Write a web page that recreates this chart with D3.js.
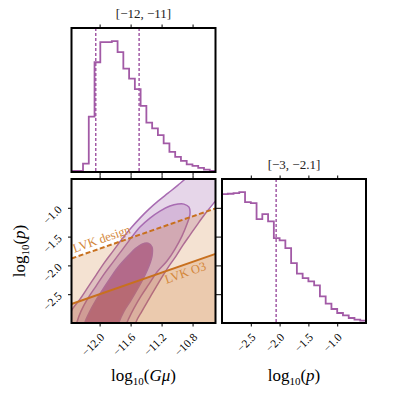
<!DOCTYPE html>
<html>
<head>
<meta charset="utf-8">
<script src="https://cdn.jsdelivr.net/npm/d3@7"></script>
<style>
  body { margin: 0; background: #fff; }
  svg { display: block; }
  text { font-family: "Liberation Serif", "DejaVu Serif", serif; fill: #000; }
</style>
</head>
<body>
<svg id="chart"></svg>
<script>
// ---- data ----
const gmuDomain = [-12.363, -10.504];
const pDomain = [-3, -0.5];
const gmuTicks = [-12.0, -11.6, -11.2, -10.8];
const pTicks = [-2.5, -2.0, -1.5, -1.0];

// 25-bin histograms (relative counts)
const gmuCounts = [3, 3, 25, 165, 327, 387, 387, 390, 357, 308, 278, 247, 197,
                   147, 130, 110, 85, 60, 45, 33, 23, 18, 12, 7, 3];
const pCounts = [387, 388, 390, 393, 363, 360, 312, 327, 305, 255, 248, 225, 180,
                 148, 135, 125, 113, 80, 58, 42, 30, 23, 15, 10, 7];

const gmuBounds = [-12.05, -11.49];
const pBounds = [-2.06];
const gmuTitle = "[\u221212, \u221211]";
const pTitle = "[\u22123, \u22122.1]";

// LVK sensitivity curves [log10 Gmu, log10 p]
const lvkDesign = [[-12.363, -1.88], [-10.504, -1.01]];
const lvkO3 = [[-12.363, -2.67], [-10.504, -1.80]];

// credible contours [log10 Gmu, log10 p]
const contourOuter = [[-10.705,-0.172],[-10.859,-0.450],[-10.988,-0.606],[-11.117,-0.745],[-11.246,-0.884],
  [-11.363,-1.023],[-11.479,-1.179],[-11.595,-1.352],[-11.711,-1.543],[-11.827,-1.752],[-11.943,-1.960],
  [-12.046,-2.168],[-12.150,-2.377],[-12.253,-2.585],[-12.343,-2.741],[-12.434,-2.950],[-12.511,-3.21],
  [-11.556,-3.21],[-11.530,-2.984],[-11.453,-2.793],[-11.363,-2.585],[-11.272,-2.377],[-11.195,-2.203],
  [-11.105,-2.012],[-11.014,-1.839],[-10.924,-1.648],[-10.834,-1.474],[-10.743,-1.300],[-10.640,-1.109],
  [-10.537,-0.936],[-10.421,-0.762],[-10.292,-0.519],[-10.382,-0.172]];
const contourMiddle = [[-10.911,-0.936],[-10.846,-0.988],[-10.834,-1.109],[-10.872,-1.283],[-10.937,-1.491],
  [-11.027,-1.717],[-11.130,-1.925],[-11.259,-2.116],[-11.363,-2.325],[-11.466,-2.533],[-11.556,-2.741],
  [-11.621,-2.915],[-11.659,-3.036],[-11.685,-3.21],[-12.330,-3.21],[-12.292,-2.984],[-12.240,-2.793],
  [-12.150,-2.568],[-12.046,-2.359],[-11.943,-2.151],[-11.827,-1.943],[-11.711,-1.734],[-11.595,-1.526],
  [-11.479,-1.335],[-11.350,-1.179],[-11.221,-1.057],[-11.092,-0.970],[-10.988,-0.936]];
const contourInner = [[-11.375,-1.613],[-11.324,-1.682],[-11.324,-1.839],[-11.363,-2.012],[-11.427,-2.203],
  [-11.505,-2.394],[-11.595,-2.602],[-11.685,-2.793],[-11.750,-2.984],[-11.801,-3.21],[-12.227,-3.21],
  [-12.188,-2.984],[-12.124,-2.793],[-12.046,-2.602],[-11.956,-2.411],[-11.853,-2.203],[-11.750,-2.012],
  [-11.634,-1.839],[-11.530,-1.700],[-11.453,-1.630]];

// ---- layout ----
const width = 395, height = 395;
const colL = [71.5, 215.5], colR = [222, 366];
const rowT = [28, 172], rowB = [179, 323];
const tick = 3.5;
const purple = "#a25aa6";
const orange = "#c8701e";
const serif = "Liberation Serif, DejaVu Serif, serif";

const svg = d3.select("#chart").attr("width", width).attr("height", height);

const xG = d3.scaleLinear().domain(gmuDomain).range(colL);
const yP = d3.scaleLinear().domain(pDomain).range([rowB[1], rowB[0]]);
const xP = d3.scaleLinear().domain(pDomain).range(colR);
const yTop = d3.scaleLinear().domain([0, 1.1 * d3.max(gmuCounts)]).range([rowT[1], rowT[0]]);
const yRight = d3.scaleLinear().domain([0, 1.1 * d3.max(pCounts)]).range([rowB[1], rowB[0]]);

const defs = svg.append("defs");
function clip(id, xr, yr) {
  defs.append("clipPath").attr("id", id).append("rect")
    .attr("x", xr[0]).attr("y", yr[0]).attr("width", xr[1] - xr[0]).attr("height", yr[1] - yr[0]);
  return `url(#${id})`;
}

function stepPoints(counts, dom) {
  const n = counts.length, w = (dom[1] - dom[0]) / n;
  const pts = [[dom[0], 0]];
  counts.forEach((c, i) => { pts.push([dom[0] + i * w, c]); pts.push([dom[0] + (i + 1) * w, c]); });
  pts.push([dom[1], 0]);
  return pts;
}

// ---- top histogram: log10(Gmu) ----
const gTop = svg.append("g").attr("clip-path", clip("cTop", colL, rowT));
gTop.append("path")
  .attr("d", d3.line().x(d => xG(d[0])).y(d => yTop(d[1]))(stepPoints(gmuCounts, gmuDomain)))
  .attr("fill", "none").attr("stroke", purple).attr("stroke-width", 1.8);
gTop.selectAll("line.q").data(gmuBounds).join("line")
  .attr("x1", d => xG(d)).attr("x2", d => xG(d)).attr("y1", rowT[0]).attr("y2", rowT[1])
  .attr("stroke", purple).attr("stroke-width", 1.5).attr("stroke-dasharray", "3,2");

// ---- right histogram: log10(p) ----
const gRight = svg.append("g").attr("clip-path", clip("cRight", colR, rowB));
gRight.append("path")
  .attr("d", d3.line().x(d => xP(d[0])).y(d => yRight(d[1]))(stepPoints(pCounts, pDomain)))
  .attr("fill", "none").attr("stroke", purple).attr("stroke-width", 1.8);
gRight.selectAll("line.q").data(pBounds).join("line")
  .attr("x1", d => xP(d)).attr("x2", d => xP(d)).attr("y1", rowB[0]).attr("y2", rowB[1])
  .attr("stroke", purple).attr("stroke-width", 1.5).attr("stroke-dasharray", "3,2");

// ---- 2D panel ----
const g2 = svg.append("g").attr("clip-path", clip("c2d", colL, rowB));
const contourLine = d3.line().x(d => xG(d[0])).y(d => yP(d[1])).curve(d3.curveCatmullRomClosed);
[[contourOuter, "#e6d6e9"], [contourMiddle, "#d5b8d9"], [contourInner, "#ae6aa6"]].forEach(([c, col]) => {
  g2.append("path").attr("d", contourLine(c))
    .attr("fill", col).attr("stroke", "#a86cb2").attr("stroke-width", 1.5);
});

const straight = d3.line().x(d => xG(d[0])).y(d => yP(d[1]));
[lvkDesign, lvkO3].forEach(c => {
  const poly = [c[0], c[1], [c[1][0], pDomain[0] - 0.1], [c[0][0], pDomain[0] - 0.1]];
  g2.append("path").attr("d", straight(poly) + "Z").attr("fill", orange).attr("fill-opacity", 0.2);
});
g2.append("path").attr("d", straight(lvkDesign)).attr("fill", "none")
  .attr("stroke", orange).attr("stroke-width", 2).attr("stroke-dasharray", "5,2.5");
g2.append("path").attr("d", straight(lvkO3)).attr("fill", "none")
  .attr("stroke", orange).attr("stroke-width", 2);

function lineLabel(c, px, off, label) {
  const x0 = xG(c[0][0]), y0 = yP(c[0][1]), x1 = xG(c[1][0]), y1 = yP(c[1][1]);
  const ang = Math.atan2(y1 - y0, x1 - x0) * 180 / Math.PI;
  const py = y0 + (y1 - y0) * (px - x0) / (x1 - x0);
  g2.append("text").attr("transform", `translate(${px},${py}) rotate(${ang})`)
    .attr("y", off).attr("font-size", 12.5).style("fill", "#d4883c").text(label);
}
lineLabel(lvkDesign, 76, -4.5, "LVK design");
lineLabel(lvkO3, 162.5, 12, "LVK O3");

// ---- axes and frames ----
const fmt = d3.format(".1f");
function ticksOnly(axis, y, scale, vals) {
  svg.append("g").attr("transform", `translate(0,${y})`)
    .call(axis(scale).tickValues(vals).tickSize(tick).tickFormat(""))
    .call(g => g.select(".domain").remove());
}
ticksOnly(d3.axisTop, rowT[0], xG, gmuTicks);
ticksOnly(d3.axisBottom, rowT[1], xG, gmuTicks);
ticksOnly(d3.axisTop, rowB[0], xG, gmuTicks);
ticksOnly(d3.axisTop, rowB[0], xP, pTicks);

function bottomAxis(scale, vals) {
  svg.append("g").attr("transform", `translate(0,${rowB[1]})`)
    .call(d3.axisBottom(scale).tickValues(vals).tickSize(tick).tickFormat(fmt))
    .call(g => g.select(".domain").remove())
    .call(g => g.selectAll("text")
      .attr("x", 0).attr("y", 0).attr("dy", null)
      .attr("transform", "translate(5,15) rotate(-45)")
      .attr("text-anchor", "end").attr("font-size", 11.5)
      .style("font-family", serif));
}
bottomAxis(xG, gmuTicks);
bottomAxis(xP, pTicks);

svg.append("g").attr("transform", `translate(${colL[0]},0)`)
  .call(d3.axisLeft(yP).tickValues(pTicks).tickSize(tick).tickFormat(fmt))
  .call(g => g.select(".domain").remove())
  .call(g => g.selectAll("text")
    .attr("x", 0).attr("y", 0).attr("dy", null)
    .attr("transform", "translate(-9,2) rotate(-45)")
    .attr("text-anchor", "end").attr("font-size", 11.5)
    .style("font-family", serif));
svg.append("g").attr("transform", `translate(${colL[1]},0)`)
  .call(d3.axisRight(yP).tickValues(pTicks).tickSize(colR[0] - colL[1]).tickFormat(""))
  .call(g => g.select(".domain").remove());

svg.selectAll(".tick line").attr("stroke", "#000").attr("stroke-width", 1);

[[colL, rowT], [colL, rowB], [colR, rowB]].forEach(([xr, yr]) => {
  svg.append("rect").attr("x", xr[0]).attr("y", yr[0])
    .attr("width", xr[1] - xr[0]).attr("height", yr[1] - yr[0])
    .attr("fill", "none").attr("stroke", "#000").attr("stroke-width", 2);
});

// ---- titles and axis labels ----
svg.append("text").attr("x", (colL[0] + colL[1]) / 2).attr("y", 18)
  .attr("text-anchor", "middle").attr("font-size", 13).style("fill", "#222").text(gmuTitle);
svg.append("text").attr("x", (colR[0] + colR[1]) / 2).attr("y", 168.5)
  .attr("text-anchor", "middle").attr("font-size", 13).style("fill", "#222").text(pTitle);

function logLabel(sel, inner) {
  sel.append("tspan").text("log");
  sel.append("tspan").attr("dy", 4).attr("font-size", 11).text("10");
  sel.append("tspan").attr("dy", -4).text("(");
  sel.append("tspan").attr("font-style", "italic").text(inner);
  sel.append("tspan").text(")");
}
logLabel(svg.append("text").attr("x", (colL[0] + colL[1]) / 2).attr("y", 381)
  .attr("text-anchor", "middle").attr("font-size", 17), "G\u03bc");
logLabel(svg.append("text").attr("x", (colR[0] + colR[1]) / 2).attr("y", 381)
  .attr("text-anchor", "middle").attr("font-size", 17), "p");
logLabel(svg.append("text").attr("transform", `translate(25,${(rowB[0] + rowB[1]) / 2}) rotate(-90)`)
  .attr("text-anchor", "middle").attr("font-size", 17), "p");
</script>
</body>
</html>
